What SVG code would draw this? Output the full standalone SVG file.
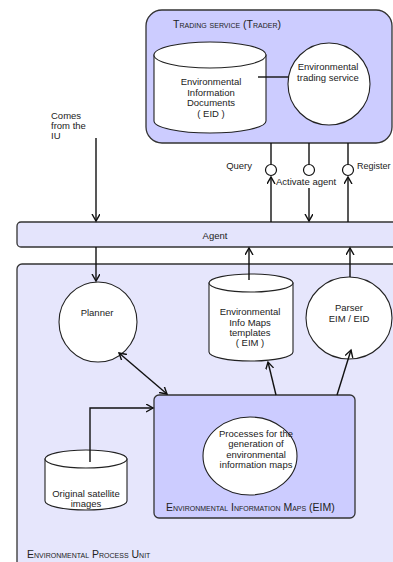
<svg xmlns="http://www.w3.org/2000/svg" width="393" height="562" viewBox="0 0 393 562">
<style>
text{font-family:"Liberation Sans",Arial,sans-serif;font-size:9.5px;fill:#222}
.c{text-anchor:middle}
.sc{font-variant:small-caps;font-size:10.5px}
.box{stroke:#333;stroke-width:1.3}
.w{fill:#fff;stroke:#222;stroke-width:1.1}
.ln{fill:none;stroke:#111;stroke-width:1.4}
.ar{fill:none;stroke:#111;stroke-width:1.4;marker-end:url(#ah)}
</style>
<defs>
<marker id="ah" markerUnits="userSpaceOnUse" markerWidth="10" markerHeight="10" refX="7" refY="4" orient="auto-start-reverse">
<path d="M0,0 L7,4 L0,8" fill="none" stroke="#111" stroke-width="1.4"/>
</marker>
</defs>
<rect width="393" height="562" fill="#fff"/>

<g id="process-unit">
<rect class="box" x="17" y="264" width="390" height="310" rx="5" fill="#e6e6fc"/>
<text class="sc" x="27" y="558">Environmental Process Unit</text>
</g>

<g id="trader">
<rect class="box" x="146" y="10" width="246" height="133" rx="16" fill="#ccccff"/>
<text class="sc" x="173" y="28">Trading service  (Trader)</text>
</g>

<g id="eid">
<path class="w" d="M154,55 L154,121 A56,12 0 0 0 266,121 L266,55 Z"/>
<ellipse class="w" cx="210" cy="55" rx="56" ry="13"/>
<text class="c" x="211" y="85">Environmental</text>
<text class="c" x="211" y="95.5">Information</text>
<text class="c" x="211" y="106">Documents</text>
<text class="c" x="211" y="116.5">( EID )</text>
</g>

<g id="trading-service">
<ellipse class="w" cx="329" cy="84" rx="41" ry="41"/>
<text class="c" x="328" y="70">Environmental</text>
<text class="c" x="328" y="81">trading service</text>
</g>

<g id="agent">
<rect class="box" x="17" y="222" width="390" height="25" rx="4" fill="#e4e4fc"/>
<text class="c" x="215" y="238.5">Agent</text>
</g>

<g id="planner">
<ellipse class="w" cx="98" cy="322" rx="39" ry="40"/>
<text class="c" x="97" y="315.5">Planner</text>
</g>

<g id="eim-templates">
<path class="w" d="M209,283 L209,352 A42,9 0 0 0 293,352 L293,283 Z"/>
<ellipse class="w" cx="251" cy="283" rx="42" ry="9"/>
<text class="c" x="250" y="314.5">Environmental</text>
<text class="c" x="250" y="325.5">Info Maps</text>
<text class="c" x="250" y="335.5">templates</text>
<text class="c" x="250" y="345.5">( EIM )</text>
</g>

<g id="parser">
<ellipse class="w" cx="349" cy="318" rx="43" ry="41"/>
<text class="c" x="349" y="310.5">Parser</text>
<text class="c" x="349" y="321.5">EIM / EID</text>
</g>

<g id="eim">
<rect class="box" x="154" y="395" width="201" height="123" rx="5" fill="#ccccff"/>
<text class="sc" x="166" y="511">Environmental Information Maps (EIM)</text>
</g>

<g id="processes">
<ellipse class="w" cx="250" cy="456" rx="47" ry="39"/>
<text class="c" x="256" y="436.5">Processes for the</text>
<text class="c" x="256" y="447">generation of</text>
<text class="c" x="256" y="457.5">environmental</text>
<text class="c" x="256" y="468">information maps</text>
</g>

<g id="satellite">
<path class="w" d="M45,459 L45,501 A41,9 0 0 0 127,501 L127,459 Z"/>
<ellipse class="w" cx="86" cy="459" rx="41" ry="9"/>
<text class="c" x="86" y="496.5">Original satellite</text>
<text class="c" x="86" y="506.5">images</text>
</g>

<g id="labels">
<text x="51" y="118.5">Comes</text>
<text x="51" y="128.5">from the</text>
<text x="51" y="138.5">IU</text>
<text x="252" y="169" text-anchor="end">Query</text>
<text x="276" y="184.5">Activate agent</text>
<text x="357" y="169" style="font-size:9px">Register</text>
</g>

<g id="connectors">
<line class="ln" x1="258" y1="77" x2="288" y2="77"/>
<line class="ln" x1="271" y1="143" x2="271" y2="164.5"/>
<line class="ln" x1="309" y1="143" x2="309" y2="164.5"/>
<line class="ln" x1="348" y1="143" x2="348" y2="164.5"/>
<circle cx="271" cy="170" r="5.5" fill="#fff" stroke="#111" stroke-width="1.2"/>
<circle cx="309" cy="170" r="5.5" fill="#fff" stroke="#111" stroke-width="1.2"/>
<circle cx="348" cy="170" r="5.5" fill="#fff" stroke="#111" stroke-width="1.2"/>
<line class="ar" x1="271" y1="222" x2="271" y2="177"/>
<line class="ar" x1="309" y1="188" x2="309" y2="221"/>
<line class="ar" x1="348" y1="222" x2="348" y2="177"/>
<line class="ar" x1="96" y1="138" x2="96" y2="221"/>
<line class="ar" x1="96" y1="247" x2="96" y2="281"/>
<line class="ar" x1="249" y1="280" x2="249" y2="248"/>
<line class="ar" x1="350" y1="277" x2="350" y2="248"/>
<line class="ar" x1="119" y1="353" x2="167" y2="394" style="marker-start:url(#ah)"/>
<line class="ar" x1="276" y1="395" x2="268" y2="362"/>
<line class="ar" x1="337" y1="395" x2="351" y2="350"/>
<polyline class="ar" points="90,462 90,408 153,408"/>
</g>
</svg>
